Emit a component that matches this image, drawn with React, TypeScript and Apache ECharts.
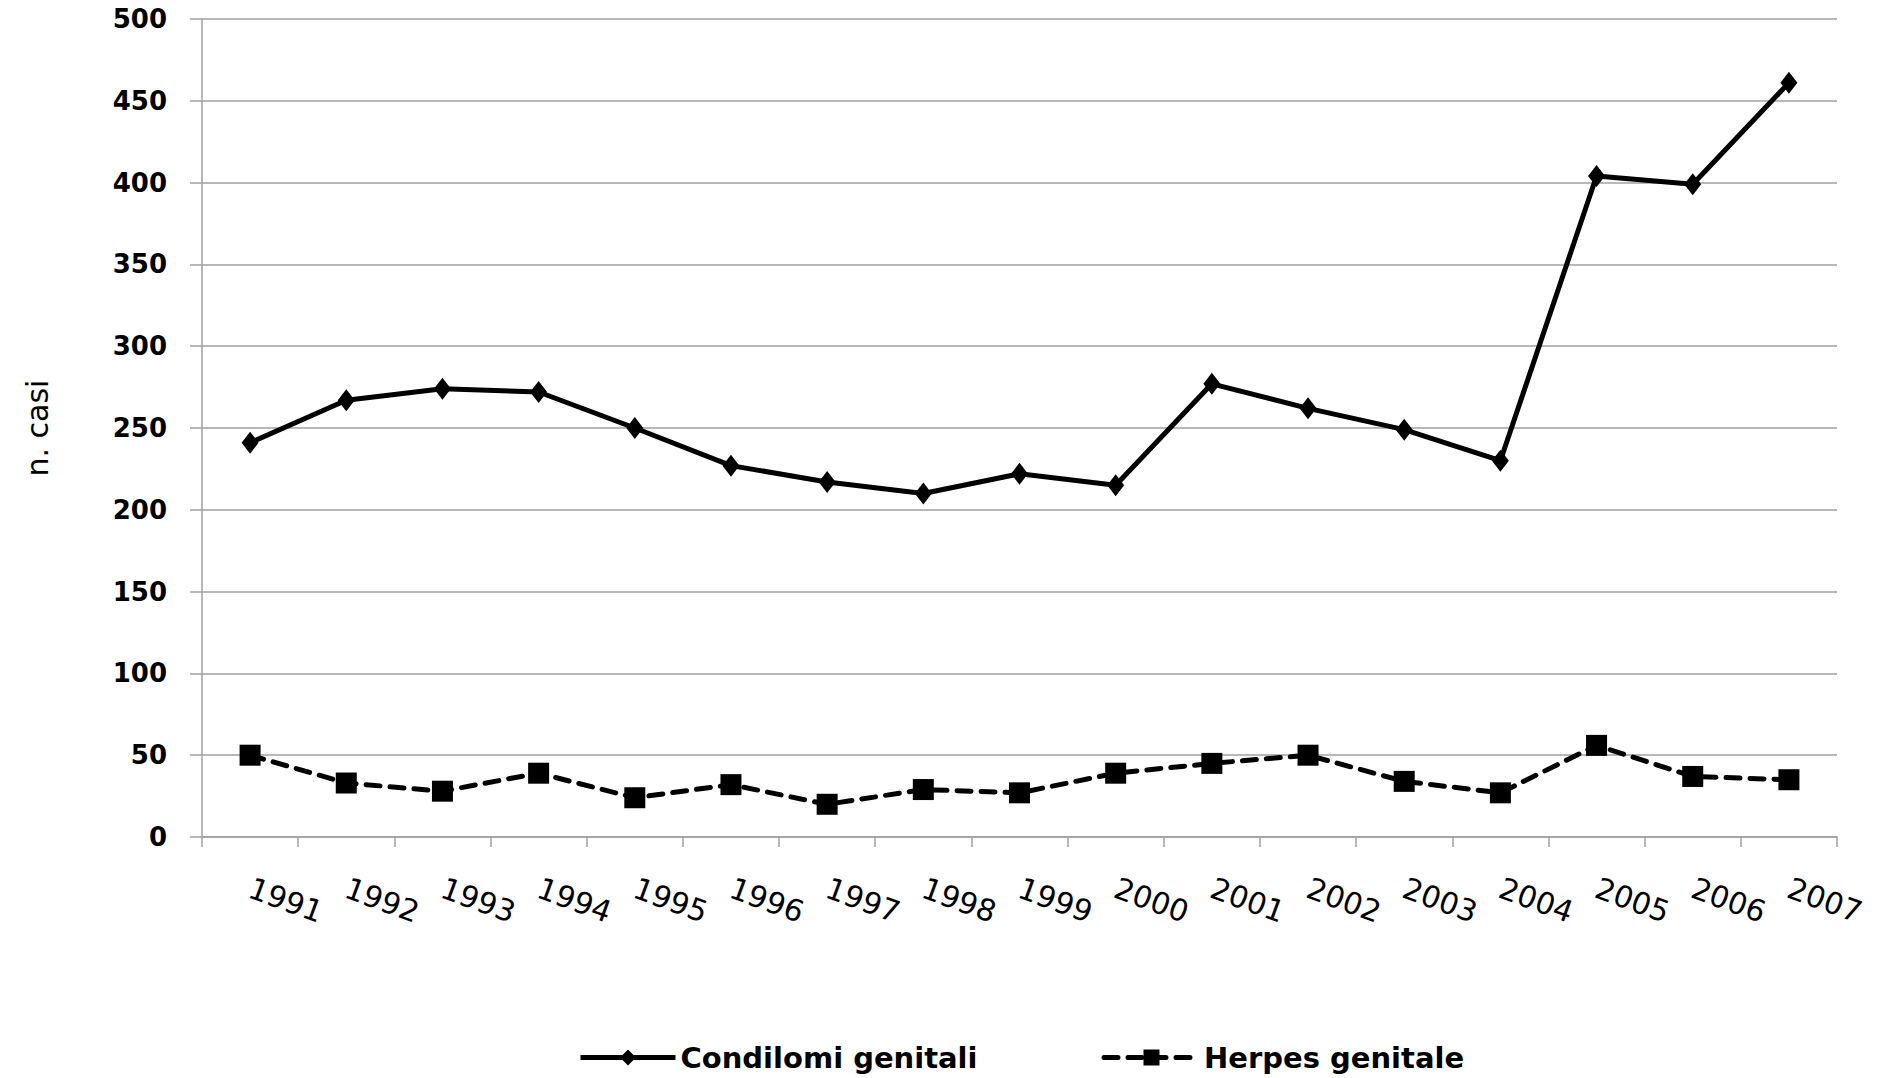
import React, { useEffect, useRef } from "react";
import * as echarts from "echarts";

const years = ["1991","1992","1993","1994","1995","1996","1997","1998","1999","2000","2001","2002","2003","2004","2005","2006","2007"];
const condilomi = [241, 267, 274, 272, 250, 227, 217, 210, 222, 215, 277, 262, 249, 230, 404, 399, 461];
const herpes = [50, 33, 28, 39, 24, 32, 20, 29, 27, 39, 45, 50, 34, 27, 56, 37, 35];
const seriesNames = ["Condilomi genitali", "Herpes genitale"];

const FONT = "'DejaVu Sans', sans-serif";

export default function App() {
  const ref = useRef<HTMLDivElement>(null);
  useEffect(() => {
    if (!ref.current) return;
    const chart = echarts.init(ref.current, undefined, { renderer: "svg" });
    const gray = "#a0a0a0";
    chart.setOption({
      animation: false,
      backgroundColor: "#ffffff",
      grid: { left: 202, right: 43, top: 19, bottom: 241, containLabel: false },
      legend: {
        left: 578,
        top: 1043,
        padding: 0,
        itemWidth: 95,
        itemHeight: 20,
        itemGap: 124,
        lineStyle: { width: 5 },
        textStyle: { fontFamily: FONT, fontSize: 29, fontWeight: "bold", color: "#000" },
        data: seriesNames,
      },
      xAxis: {
        type: "category",
        data: years,
        boundaryGap: true,
        axisLine: { lineStyle: { color: gray, width: 1.5 } },
        axisTick: { show: true, length: 10, alignWithLabel: false, lineStyle: { color: gray, width: 1.5 } },
        axisLabel: {
          rotate: -20,
          margin: 50,
          interval: 0,
          fontFamily: FONT,
          fontSize: 30,
          color: "#000",
        },
        splitLine: { show: false },
      },
      yAxis: {
        type: "value",
        min: 0,
        max: 500,
        interval: 50,
        name: "n. casi",
        nameLocation: "middle",
        nameRotate: 90,
        nameGap: 150,
        nameTextStyle: { fontFamily: FONT, fontSize: 30, color: "#000" },
        axisLine: { show: true, lineStyle: { color: gray, width: 1.5 } },
        axisTick: { show: true, length: 12, lineStyle: { color: gray, width: 1.5 } },
        axisLabel: { margin: 35, fontFamily: FONT, fontSize: 26, fontWeight: "bold", color: "#000" },
        splitLine: { show: true, lineStyle: { color: gray, width: 1.5 } },
      },
      series: [
        {
          name: seriesNames[0],
          type: "line",
          data: condilomi,
          symbol: "diamond",
          symbolSize: [17, 22],
          itemStyle: { color: "#000" },
          lineStyle: { color: "#000", width: 5 },
        },
        {
          name: seriesNames[1],
          type: "line",
          data: herpes,
          symbol: "rect",
          symbolSize: 21,
          itemStyle: { color: "#000" },
          lineStyle: { color: "#000", width: 5, type: [14, 10], cap: "round" },
        },
      ],
    });
    return () => chart.dispose();
  }, []);
  return (
    <div
      ref={ref}
      style={{ position: "fixed", left: 0, top: 0, width: 1880, height: 1078, background: "#fff" }}
    />
  );
}
